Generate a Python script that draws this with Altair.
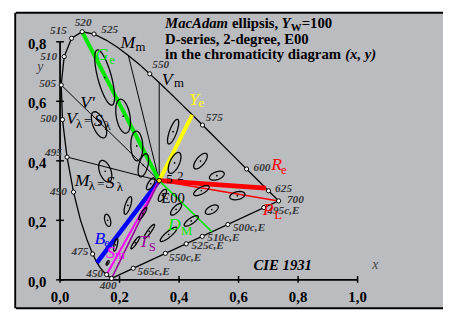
import altair as alt
import numpy as np
import pandas as pd

# ---------------- data ----------------
# CIE 1931 spectral locus (x, y)
wl = [400, 410, 420, 430, 440, 450, 455, 460, 465, 470, 475, 480, 485, 490, 495, 500,
      505, 510, 515, 520, 525, 530, 535, 540, 545, 550, 555, 560, 565, 570, 575, 580,
      585, 590, 595, 600, 610, 620, 625, 630, 640, 650, 660, 680, 700]
loc_x = [0.1733, 0.1726, 0.1714, 0.1689, 0.1644, 0.1566, 0.1510, 0.1440, 0.1355, 0.1241,
         0.1096, 0.0913, 0.0687, 0.0454, 0.0235, 0.0082, 0.0039, 0.0139, 0.0389, 0.0743,
         0.1142, 0.1547, 0.1929, 0.2296, 0.2658, 0.3016, 0.3373, 0.3731, 0.4087, 0.4441,
         0.4788, 0.5125, 0.5448, 0.5752, 0.6029, 0.6270, 0.6658, 0.6915, 0.7006, 0.7079,
         0.7190, 0.7260, 0.7300, 0.7334, 0.7347]
loc_y = [0.0048, 0.0048, 0.0051, 0.0069, 0.0109, 0.0177, 0.0227, 0.0297, 0.0399, 0.0578,
         0.0868, 0.1327, 0.2007, 0.2950, 0.4127, 0.5384, 0.6548, 0.7502, 0.8120, 0.8338,
         0.8262, 0.8059, 0.7816, 0.7543, 0.7243, 0.6923, 0.6589, 0.6245, 0.5896, 0.5547,
         0.5202, 0.4866, 0.4544, 0.4242, 0.3965, 0.3725, 0.3340, 0.3083, 0.2993, 0.2920,
         0.2809, 0.2740, 0.2700, 0.2666, 0.2653]
marked_wl = [400, 450, 475, 490, 495, 500, 505, 510, 515, 520, 525, 550, 575, 600, 625, 700]

# points on the purple line
purple_x = [0.685, 0.564, 0.478, 0.424, 0.354, 0.246]
purple_y = [0.243, 0.186, 0.146, 0.121, 0.089, 0.039]

white_x, white_y = 0.3333, 0.3333

# lines from the white point
ray_x2 = [0.0039, 0.0235, 0.2296, 0.3333, 0.0743, 0.4441, 0.6915, 0.7347, 0.1241, 0.1566, 0.1733, 0.510]
ray_y2 = [0.6548, 0.4127, 0.7543, 0.6623, 0.8338, 0.5547, 0.3083, 0.2653, 0.0578, 0.0177, 0.0048, 0.162]
ray_col = ["#000000", "#000000", "#000000", "#000000", "#00e800", "#ffff00", "#ff0000",
           "#ff0000", "#0000ff", "#ff00ff", "#990099", "#00e800"]
ray_w = [1, 1, 1, 1, 4, 4, 5, 1.6, 4.5, 2, 1.6, 1.6]

# MacAdam ellipses (x, y, a*1e3, b*1e3, theta deg), drawn 10x enlarged
ell_x = [0.160, 0.187, 0.253, 0.150, 0.131, 0.212, 0.258, 0.152, 0.280, 0.380, 0.160, 0.228, 0.305,
         0.385, 0.472, 0.527, 0.475, 0.510, 0.596, 0.344, 0.390, 0.441, 0.278, 0.300, 0.365]
ell_y = [0.057, 0.118, 0.125, 0.680, 0.521, 0.550, 0.450, 0.365, 0.385, 0.498, 0.200, 0.250, 0.323,
         0.393, 0.399, 0.350, 0.300, 0.236, 0.283, 0.284, 0.237, 0.198, 0.223, 0.163, 0.153]
ell_a = [0.85, 2.2, 2.5, 9.6, 4.7, 5.8, 5.0, 3.8, 4.0, 4.4, 2.1, 3.1, 2.3,
         3.8, 3.2, 2.6, 2.9, 2.4, 2.6, 2.3, 2.5, 2.8, 2.4, 2.9, 3.6]
ell_b = [0.35, 0.55, 0.50, 2.3, 2.0, 2.3, 2.0, 1.9, 1.5, 1.2, 0.95, 0.9, 0.9,
         1.6, 1.4, 1.3, 1.1, 1.2, 1.3, 0.9, 1.0, 0.95, 0.55, 0.6, 0.95]
ell_t = [62.5, 77, 55.5, 105, 112.5, 100, 92, 110, 75.5, 70, 104, 72, 58,
         65.5, 51, 20, 28.5, 29.5, 13, 60, 47, 34.5, 57.5, 54, 40]

# wavelength labels
lab_r_t = ["515", "510", "505", "500", "495", "490", "475", "450"]
lab_r_x = [0.0231, -0.0099, -0.0132, -0.0099, 0.0066, 0.0231, 0.0957, 0.1452]
lab_r_y = [0.8350, 0.7492, 0.6568, 0.5413, 0.4257, 0.2954, 0.0924, 0.0198]
lab_l_t = ["525", "550", "575", "600", "625", "700",
           "495c,E", "500c,E", "510c,E", "525c,E", "550c,E", "565c,E"]
lab_l_x = [0.1386, 0.3102, 0.4901, 0.6502, 0.7228, 0.7624,
           0.6964, 0.5809, 0.4950, 0.4422, 0.3663, 0.2607]
lab_l_y = [0.8383, 0.7228, 0.5446, 0.3746, 0.3036, 0.2673,
           0.2310, 0.1749, 0.1419, 0.1122, 0.0726, 0.0264]
lab_c_t = ["520", "400"]
lab_c_x = [0.0776, 0.1617]
lab_c_y = [0.8614, -0.0215]

# axis ticks
ticks_x = [0.0, 0.2, 0.4, 0.6, 0.8, 1.0]
ticks_x_lab = ["0,0", "0,2", "0,4", "0,6", "0,8", "1,0"]
ticks_y = [0.0, 0.2, 0.4, 0.6, 0.8]
ticks_y_lab = ["0,0", "0,2", "0,4", "0,6", "0,8"]

# big italic letters
big_t = ["G", "M", "V", "Y", "R", "P", "D", "T", "S", "B", "M", "S", "V", "S", "V'"]
big_x = [0.1403, 0.2277, 0.3597, 0.4505, 0.7277, 0.6997, 0.3845, 0.2822, 0.170, 0.1337,
         0.0743, 0.1683, 0.0380, 0.1287, 0.0924]
big_y = [0.7558, 0.7954, 0.6716, 0.6056, 0.3861, 0.2343, 0.1832, 0.1271, 0.0891, 0.1386,
         0.3317, 0.3251, 0.5396, 0.5347, 0.5957]
big_c = ["#00e800", "#000000", "#000000", "#ffff00", "#ff0000", "#ff0000", "#00e800", "#990099",
         "#ff00ff", "#0000ff", "#000000", "#000000", "#000000", "#000000", "#000000"]
# subscripts
sub_t = ["e", "m", "m", "e", "e", "L", "M", "S", "m", "e", "λ", "λ", "λ", "λ", "=", "="]
sub_x = [0.1749, 0.2706, 0.3993, 0.4752, 0.7525, 0.7327, 0.4257, 0.3102, 0.2013, 0.1584,
         0.1073, 0.2013, 0.0644, 0.1601, 0.1370, 0.0924]
sub_y = [0.7376, 0.7822, 0.6617, 0.5957, 0.3696, 0.2162, 0.1634, 0.1106, 0.0825, 0.1221,
         0.3135, 0.3102, 0.5248, 0.5182, 0.3218, 0.5330]
sub_c = ["#00e800", "#000000", "#000000", "#ffff00", "#ff0000", "#ff0000", "#00e800", "#990099",
         "#ff00ff", "#0000ff", "#000000", "#000000", "#000000", "#000000", "#000000", "#000000"]

# ---------------- scales ----------------
X0, X1 = -0.1485, 1.2871
Y0, Y1 = -0.0957, 0.8977
xsc = alt.Scale(domain=[X0, X1], nice=False, zero=False)
ysc = alt.Scale(domain=[Y0, Y1], nice=False, zero=False)
FONT = "Liberation Serif"


def enc(xf="x", yf="y"):
    return dict(x=alt.X(f"{xf}:Q", scale=xsc, axis=None),
                y=alt.Y(f"{yf}:Q", scale=ysc, axis=None))


def texts(t, xs, ys, cols=None, **kw):
    df = pd.DataFrame({"t": t, "x": xs, "y": ys,
                       "c": cols if cols is not None else ["#000000"] * len(t)})
    props = dict(font=FONT, baseline="middle")
    props.update(kw)
    return alt.Chart(df).mark_text(**props).encode(
        text="t:N", color=alt.Color("c:N", scale=None), **enc())


def segs(x, y, x2, y2, w, col="#000000"):
    df = pd.DataFrame({"x": x, "y": y, "x2": x2, "y2": y2})
    return alt.Chart(df).mark_rule(color=col, strokeWidth=w).encode(
        x2="x2:Q", y2="y2:Q", **enc())


layers = []

# frame
layers.append(segs([X0, X0 - 0.002, X0], [Y1, Y0, Y0], [X1, X0 - 0.002, X1], [Y1, Y1, Y0], 2))

# axes
layers.append(segs([0, 0], [0, 0], [1.0, 0], [0, 0.8], 1.8))
layers.append(segs(ticks_x, [-0.010] * 6, ticks_x, [0.013] * 6, 1.5))
layers.append(segs([-0.013] * 5, ticks_y, [0.013] * 5, ticks_y, 1.5))

# spectral locus + purple line
loc_df = pd.DataFrame({"x": loc_x + [loc_x[0]], "y": loc_y + [loc_y[0]],
                       "o": list(range(len(wl) + 1))})
layers.append(alt.Chart(loc_df).mark_line(color="black", strokeWidth=1.3).encode(
    order="o:Q", **enc()))

# rays from white point
ray_df = pd.DataFrame({"x": [white_x] * len(ray_x2), "y": [white_y] * len(ray_x2),
                       "x2": ray_x2, "y2": ray_y2, "c": ray_col, "w": ray_w})
layers.append(alt.Chart(ray_df).mark_rule().encode(
    x2="x2:Q", y2="y2:Q", color=alt.Color("c:N", scale=None),
    strokeWidth=alt.StrokeWidth("w:Q", scale=None), **enc()))

# ellipses
tt = np.linspace(0, 2 * np.pi, 73)
rows = []
for i, (cx, cy, a, b, t) in enumerate(zip(ell_x, ell_y, ell_a, ell_b, ell_t)):
    A, B, th = a * 0.01, b * 0.01, np.radians(t)
    xs = cx + A * np.cos(tt) * np.cos(th) - B * np.sin(tt) * np.sin(th)
    ys = cy + A * np.cos(tt) * np.sin(th) + B * np.sin(tt) * np.cos(th)
    for k, (xx, yy) in enumerate(zip(xs, ys)):
        rows.append({"e": i, "k": k, "x": float(xx), "y": float(yy)})
ell_df = pd.DataFrame(rows)
layers.append(alt.Chart(ell_df).mark_line(color="black", strokeWidth=1.3).encode(
    detail="e:N", order="k:Q", **enc()))
layers.append(alt.Chart(pd.DataFrame({"x": ell_x, "y": ell_y})).mark_circle(
    color="black", size=3, opacity=1).encode(**enc()))

# markers
wl_idx = [wl.index(w) for w in marked_wl]
mk_df = pd.DataFrame({"x": [loc_x[i] for i in wl_idx] + purple_x,
                      "y": [loc_y[i] for i in wl_idx] + purple_y})
layers.append(alt.Chart(mk_df).mark_point(shape="circle", filled=True, fill="white",
                                          stroke="black", strokeWidth=1, size=18, opacity=1).encode(**enc()))
layers.append(alt.Chart(pd.DataFrame({"x": [white_x], "y": [white_y]})).mark_point(
    shape="circle", filled=True, fill="#ffe000", stroke="black", strokeWidth=1, size=22, opacity=1).encode(**enc()))

# wavelength labels
WL = dict(fontSize=11.5, fontStyle="italic", fontWeight="bold")
layers.append(texts(lab_r_t, lab_r_x, lab_r_y, ["#383838"] * len(lab_r_t), align="right", **WL))
layers.append(texts(lab_l_t, lab_l_x, lab_l_y, ["#383838"] * len(lab_l_t), align="left", **WL))
layers.append(texts(lab_c_t, lab_c_x, lab_c_y, ["#383838"] * len(lab_c_t), align="center", **WL))

# axis labels
layers.append(texts(ticks_x_lab, ticks_x, [-0.0594] * 6, align="center", fontSize=15, fontWeight="bold"))
layers.append(texts(ticks_y_lab, [-0.0462] * 5, [v - 0.006 for v in ticks_y], align="right",
                    fontSize=15, fontWeight="bold"))
layers.append(texts(["x"], [1.0594], [0.0363], ["#444444"], align="center", baseline="alphabetic",
                    fontSize=14, fontStyle="italic"))
layers.append(texts(["y"], [-0.066], [0.703], ["#444444"], align="center", baseline="alphabetic",
                    fontSize=14, fontStyle="italic"))
layers.append(texts(["CIE 1931"], [0.6502], [0.0347], align="left", baseline="alphabetic",
                    fontSize=15, fontStyle="italic", fontWeight="bold"))

# letters
layers.append(texts(big_t, big_x, big_y, big_c, align="center", fontSize=18, fontStyle="italic"))
layers.append(texts(sub_t, sub_x, sub_y, sub_c, align="center", fontSize=13))
layers.append(texts(["E00"], [0.3399], [0.2756], align="left", fontSize=15))
layers.append(texts(["5", "2"], [0.368, 0.4043], [0.3399, 0.3498], align="center", fontSize=13))

# title
TB = dict(fontSize=15, fontWeight="bold", baseline="alphabetic", align="left")
layers.append(texts(["MacAdam", "Y"], [0.3531, 0.744], [0.8465, 0.8465], fontStyle="italic", **TB))
layers.append(texts(["ellipsis,", "=100", "D-series, 2-degree, E00", "in the chromaticity diagram"],
                    [0.578, 0.812, 0.3531, 0.3531], [0.8465, 0.8465, 0.7937, 0.7426], **TB))
layers.append(texts(["W"], [0.775], [0.8366], align="left", baseline="alphabetic",
                    fontSize=11, fontWeight="bold"))
layers.append(texts(["(x, y)"], [1.0627], [0.7426], align="right", baseline="alphabetic",
                    fontSize=15, fontWeight="bold", fontStyle="italic"))

chart = alt.layer(*layers).properties(
    width=435, height=301,
    padding={"left": 8, "top": 2, "right": 0, "bottom": 5},
    autosize=alt.AutoSizeParams(type="none"),
    background="white",
).configure_view(fill="#bbbcc0", stroke="transparent")

chart.save("out.html", embed_options={"renderer": "svg", "actions": False})
